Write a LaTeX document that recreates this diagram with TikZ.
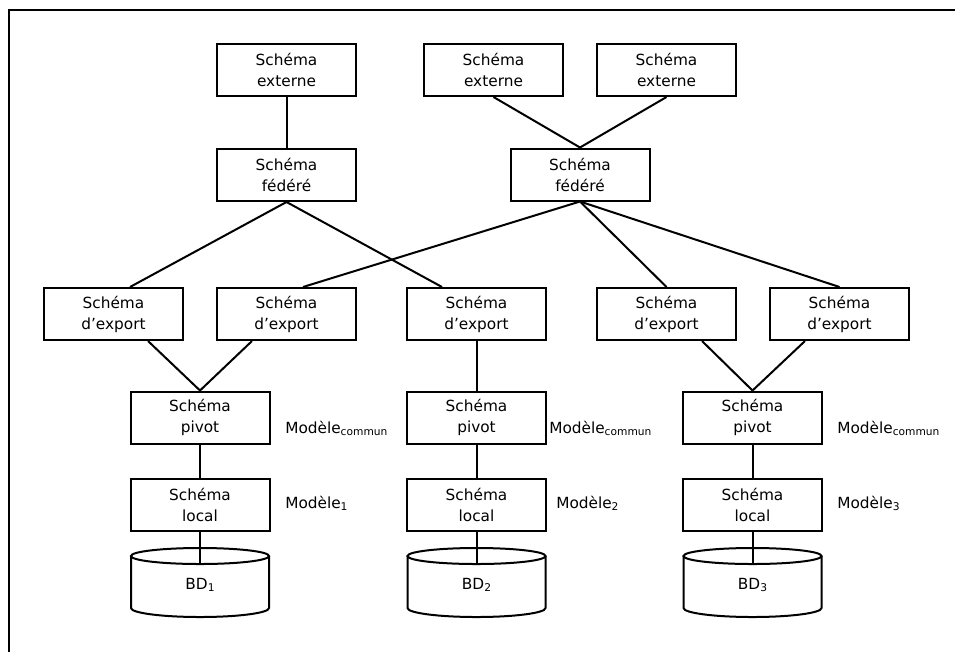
\documentclass[tikz,border=0pt]{standalone}
\usepackage{fontspec}
\setmainfont{DejaVu Sans}
\usetikzlibrary{calc}
\newcommand{\mysub}[1]{{\fontsize{8}{8}\selectfont\raisebox{-1.6pt}{#1}}}
\begin{document}
\begin{tikzpicture}[x=0.75pt,y=-0.75pt,
  box/.style={draw,line width=1.5pt,minimum width=104.25pt,minimum height=39pt,inner sep=0pt,align=center,font=\fontsize{11.5}{15.75}\selectfont},
  lbl/.style={anchor=base west,inner sep=0pt,font=\fontsize{11.5}{15.75}\selectfont},
  bdtext/.style={inner sep=0pt,font=\fontsize{11.5}{15.75}\selectfont},
  conn/.style={line width=1.5pt},
  cylline/.style={line width=1.5pt}]
\useasboundingbox (0,0) rectangle (955,651);
% frame
\coordinate (fa) at (955,10);
\coordinate (fb) at (9,10);
\coordinate (fc) at (9,652);
\draw[line width=1.5pt] (fa) -- (fb) -- (fc);

% top row
\node[box] (ext1) at (286.5,70) {Schéma\\externe};
\node[box] (ext2) at (493.5,70) {Schéma\\externe};
\node[box] (ext3) at (666.5,70) {Schéma\\externe};
% federated
\node[box] (fed1) at (286.5,175) {Schéma\\fédéré};
\node[box] (fed2) at (580,174.5) {Schéma\\fédéré};
% export
\node[box] (exp1) at (113.5,314) {Schéma\\d’export};
\node[box] (exp2) at (286.5,314) {Schéma\\d’export};
\node[box] (exp3) at (476.5,314) {Schéma\\d’export};
\node[box] (exp4) at (666.5,314) {Schéma\\d’export};
\node[box] (exp5) at (839.5,314) {Schéma\\d’export};
% pivot
\node[box] (piv1) at (200,417.5) {Schéma\\pivot};
\node[box] (piv2) at (476.5,417.5) {Schéma\\pivot};
\node[box] (piv3) at (752.5,417.5) {Schéma\\pivot};
% local
\node[box] (loc1) at (200,504.5) {Schéma\\local};
\node[box] (loc2) at (476.5,504.5) {Schéma\\local};
\node[box] (loc3) at (752.5,504.5) {Schéma\\local};
% labels
\node[lbl] (m1) at (285,433) {Modèle\mysub{commun}};
\node[lbl] (m2) at (549,433) {Modèle\mysub{commun}};
\node[lbl] (m3) at (837,433) {Modèle\mysub{commun}};
\node[lbl] (l1) at (285,508) {Modèle\mysub{1}};
\node[lbl] (l2) at (556,508) {Modèle\mysub{2}};
\node[lbl] (l3) at (837,508) {Modèle\mysub{3}};

% cylinders
\foreach \cx/\n in {200/1,476.5/2,752.5/3}{
  \draw[cylline] (\cx-69,556) -- (\cx-69,608) arc[start angle=180,end angle=360,x radius=51.75pt,y radius=6.75pt] -- (\cx+69,556);
  \draw[cylline] (\cx,556) ellipse[x radius=51.75pt,y radius=6pt];
  \node[bdtext] (bd\n) at (\cx,585) {BD\mysub{\n}};
  \coordinate (ct\n) at (\cx,564.5);
}

% connectors
\draw[conn] (ext1.south) -- (fed1.north);
\draw[conn] (ext2.south) -- (fed2.north);
\draw[conn] (ext3.south) -- (fed2.north);
\draw[conn] (fed1.south) -- ($(exp1.north)+(16.5,0)$);
\draw[conn] (fed1.south) -- ($(exp3.north)+(-34.5,0)$);
\draw[conn] (fed2.south) -- ($(exp2.north)+(16.5,0)$);
\draw[conn] (fed2.south) -- (exp4.north);
\draw[conn] (fed2.south) -- (exp5.north);
\draw[conn] ($(exp1.south)+(34.5,0)$) -- (piv1.north);
\draw[conn] ($(exp2.south)+(-34.5,0)$) -- (piv1.north);
\draw[conn] (exp3.south) -- (piv2.north);
\draw[conn] ($(exp4.south)+(35.5,0)$) -- (piv3.north);
\draw[conn] ($(exp5.south)+(-34.5,0)$) -- (piv3.north);
\draw[conn] (piv1.south) -- (loc1.north);
\draw[conn] (piv2.south) -- (loc2.north);
\draw[conn] (piv3.south) -- (loc3.north);
\draw[conn] (loc1.south) -- (ct1);
\draw[conn] (loc2.south) -- (ct2);
\draw[conn] (loc3.south) -- (ct3);
\end{tikzpicture}
\end{document}
